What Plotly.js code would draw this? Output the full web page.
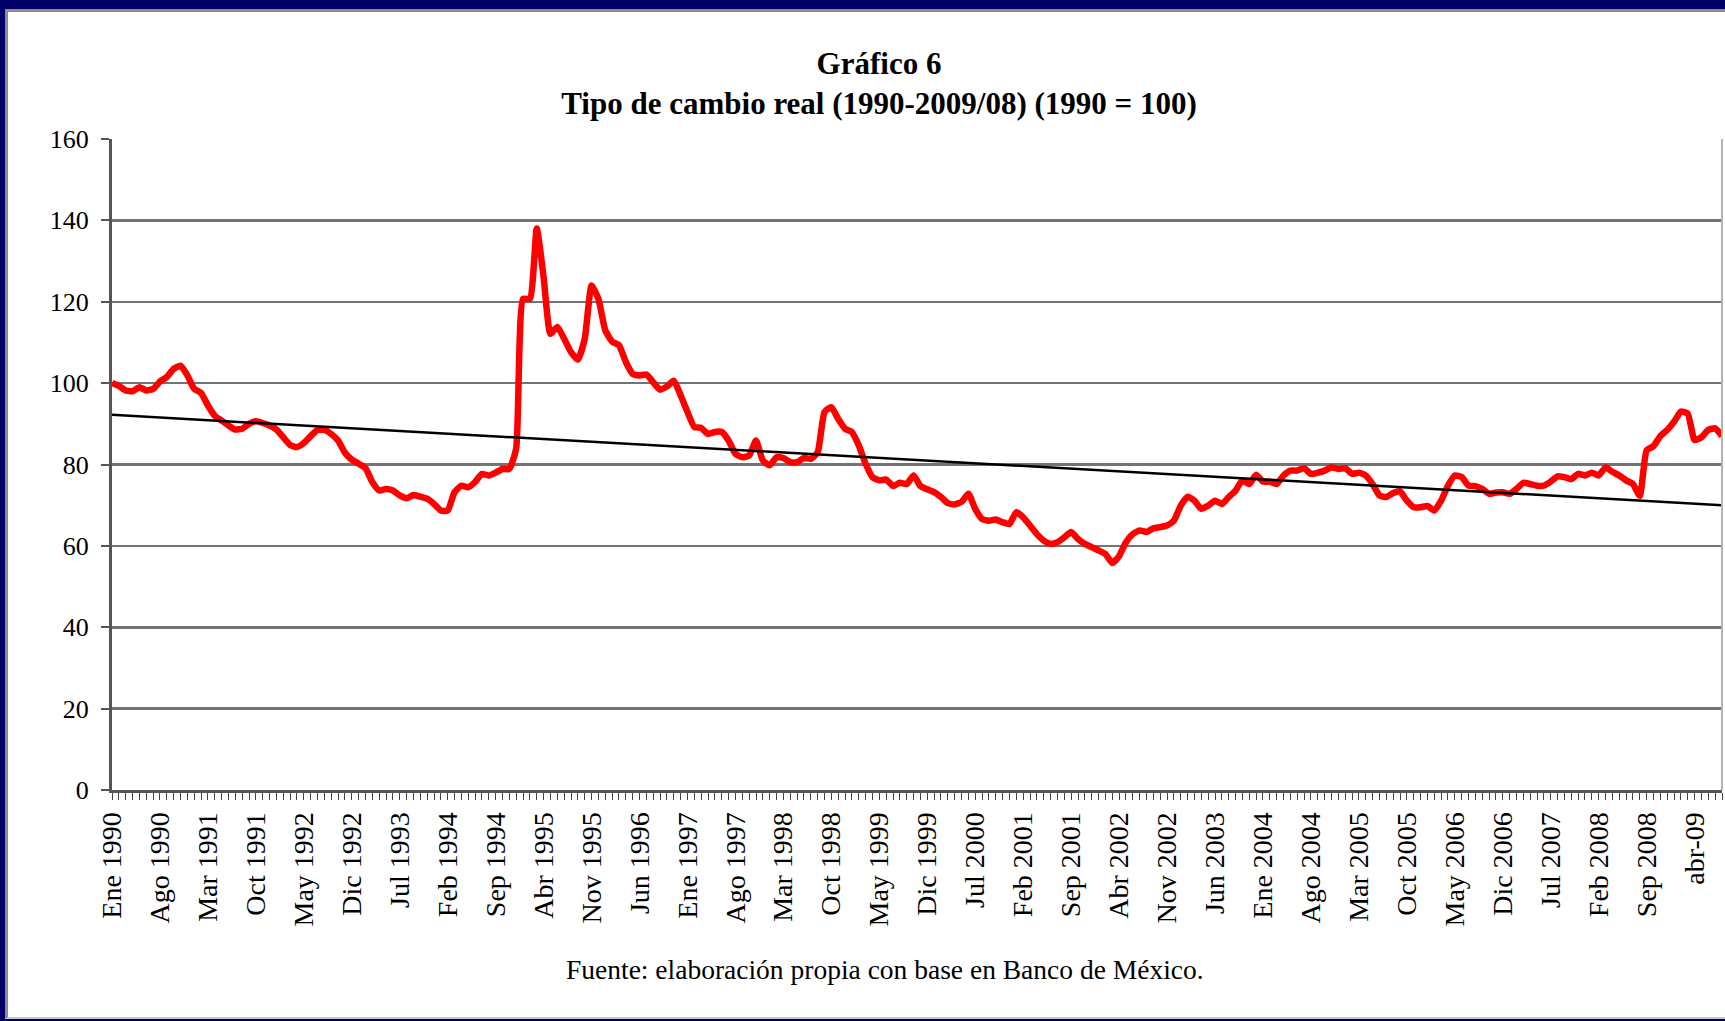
<!DOCTYPE html>
<html>
<head>
<meta charset="utf-8">
<script src="https://cdn.plot.ly/plotly-3.0.1.min.js"></script>
<style>
  html, body { margin: 0; padding: 0; width: 1725px; height: 1021px; overflow: hidden; background: #000066; }
  #frame { position: absolute; left: 5px; top: 9px; width: 1720px; height: 1010px; background: #ffffff;
           border-left: 3px solid #8c8c8c; border-top: 3px solid #8c8c8c; border-bottom: 2px solid #c8c8c8; box-sizing: border-box; }
  #chart { position: absolute; left: 0; top: 0; width: 1717px; height: 1005px; }
</style>
</head>
<body>
<div id="frame"><div id="chart"></div></div>
<script>
// Índice de tipo de cambio real mensual, Ene 1990 – Ago 2009 (1990 = 100)
const tipoCambioReal = [
  100, 99.3, 98.2, 98, 99, 98.2, 98.6, 100.4, 101.5, 103.5, 104.3, 101.9,
  98.6, 97.6, 94.5, 92, 90.8, 89.6, 88.6, 88.8, 90, 90.6, 90.2, 89.6,
  88.6, 86.7, 84.8, 84.3, 85.3, 87, 88.5, 88.5, 87.5, 85.9, 82.9, 81.2,
  80.2, 79.1, 75.7, 73.6, 74, 73.6, 72.4, 71.7, 72.5, 72.1, 71.6, 70.3,
  68.7, 68.7, 73.2, 74.8, 74.4, 75.7, 77.7, 77.3, 78, 78.9, 78.9, 84,
  120.7, 120.7, 138, 126, 112.1, 113.8, 110.9, 107.6, 105.8, 110.9, 124, 120.7,
  113, 110.2, 109.3, 105.2, 102.3, 101.9, 102.1, 100.2, 98.4, 99.2, 100.6, 97,
  92.9, 89.2, 89, 87.5, 88, 88, 85.9, 82.6, 81.8, 82.2, 85.9, 81,
  79.8, 81.8, 81.6, 80.6, 80.6, 81.6, 81.4, 83, 92.9, 94.1, 91.2, 88.8,
  88, 84.7, 80.2, 76.9, 76.1, 76.3, 74.7, 75.5, 75.2, 77.3, 74.7, 73.9,
  73.2, 72, 70.5, 70.2, 70.8, 72.8, 69.1, 66.6, 66.2, 66.5, 65.8, 65.4,
  68.3, 67, 65, 62.9, 61.3, 60.5, 60.9, 62.1, 63.4, 61.7, 60.5, 59.7,
  58.9, 58, 55.8, 57.5, 60.9, 62.9, 63.8, 63.4, 64.3, 64.6, 65, 66.2,
  69.9, 72.1, 71.1, 69.1, 69.9, 71.1, 70.3, 72, 73.6, 76.1, 75.2, 77.5,
  75.8, 75.8, 75.2, 77.3, 78.5, 78.5, 79.1, 77.7, 78, 78.5, 79.3, 78.9,
  79.1, 77.7, 78, 77.3, 75.2, 72.4, 72, 73, 73.4, 71.1, 69.5, 69.5,
  69.8, 68.7, 71.1, 74.8, 77.3, 76.9, 74.8, 74.7, 74, 72.8, 73.1, 73.2,
  72.8, 74, 75.5, 75.2, 74.8, 74.8, 75.8, 77.1, 76.9, 76.4, 77.7, 77.3,
  78, 77.3, 79.3, 78.2, 77.3, 76.1, 75.2, 72.3, 83.5, 84.5, 87, 88.5,
  90.5, 93, 92.5, 86, 86.7, 88.5, 88.9, 87
];

const tendencia = [92.2, 70.0];

// Etiquetas del eje horizontal (una cada 7 meses)
const etiquetasMes = [
  "Ene 1990", "Ago 1990", "Mar 1991", "Oct 1991", "May 1992", "Dic 1992", "Jul 1993",
  "Feb 1994", "Sep 1994", "Abr 1995", "Nov 1995", "Jun 1996", "Ene 1997", "Ago 1997",
  "Mar 1998", "Oct 1998", "May 1999", "Dic 1999", "Jul 2000", "Feb 2001", "Sep 2001",
  "Abr 2002", "Nov 2002", "Jun 2003", "Ene 2004", "Ago 2004", "Mar 2005", "Oct 2005",
  "May 2006", "Dic 2006", "Jul 2007", "Feb 2008", "Sep 2008", "abr-09"
];
const pasoEtiquetas = 7;
const valoresEjeY = [0, 20, 40, 60, 80, 100, 120, 140, 160];

const mesIdx = tipoCambioReal.map((_, i) => i);
const ultimo = mesIdx.length - 1;
const posEtiquetas = etiquetasMes.map((_, k) => k * pasoEtiquetas);

const serif = "Liberation Serif, Times New Roman, serif";

const traces = [
  {
    x: mesIdx, y: tipoCambioReal, type: "scatter", mode: "lines",
    line: { color: "#ff0000", width: 6.5, shape: "spline", smoothing: 0.5 },
    hoverinfo: "skip"
  },
  {
    x: [0, ultimo], y: tendencia, type: "scatter", mode: "lines",
    line: { color: "#000000", width: 2.5 },
    hoverinfo: "skip"
  }
];

const layout = {
  width: 1717, height: 1005,
  margin: { l: 104.3, r: 3.3, t: 127.4, b: 227.4, pad: 0 },
  paper_bgcolor: "#ffffff", plot_bgcolor: "#ffffff",
  showlegend: false, hovermode: false,
  font: { family: serif, color: "#000000" },
  title: {
    text: "<b>Gráfico 6</b><br><b>Tipo de cambio real (1990-2009/08) (1990 = 100)</b>",
    font: { family: serif, size: 31, color: "#000000" },
    x: 0.5073, xanchor: "center", xref: "container",
    y: 1 - 61.5 / 1005, yanchor: "middle", yref: "container"
  },
  xaxis: {
    type: "linear", range: [0, ultimo],
    tickmode: "array", tickvals: posEtiquetas, ticktext: etiquetasMes,
    tickangle: -90, tickfont: { family: serif, size: 28, color: "#000000" },
    ticks: "outside", ticklen: 7, tickwidth: 1, tickcolor: "#444444",
    ticklabelstandoff: 1,
    minor: { dtick: 1, tick0: 0, ticks: "outside", ticklen: 7, tickwidth: 1, tickcolor: "#444444", showgrid: false },
    showgrid: false, zeroline: false,
    showline: true, linecolor: "#555555", linewidth: 3,
    fixedrange: true
  },
  yaxis: {
    range: [0, 160], tickmode: "array", tickvals: valoresEjeY,
    tickfont: { family: serif, size: 26, color: "#000000" },
    ticks: "outside", ticklen: 8, tickwidth: 2, tickcolor: "#555555",
    ticklabelstandoff: 7,
    showgrid: true, gridcolor: "#747474", gridwidth: 2.5,
    zeroline: false,
    showline: true, linecolor: "#555555", linewidth: 3,
    fixedrange: true
  },
  shapes: [
    { type: "line", xref: "paper", yref: "paper", x0: 1, x1: 1, y0: 0, y1: 1,
      line: { color: "#b4b4b4", width: 2 } }
  ],
  annotations: [
    {
      text: "Fuente: elaboración propia con base en Banco de México.",
      xref: "paper", yref: "paper", x: 0.480, y: -0.276,
      xanchor: "center", yanchor: "middle", showarrow: false,
      font: { family: serif, size: 27.5, color: "#000000" }
    }
  ]
};

Plotly.newPlot("chart", traces, layout, { staticPlot: true, displayModeBar: false });
</script>
</body>
</html>
